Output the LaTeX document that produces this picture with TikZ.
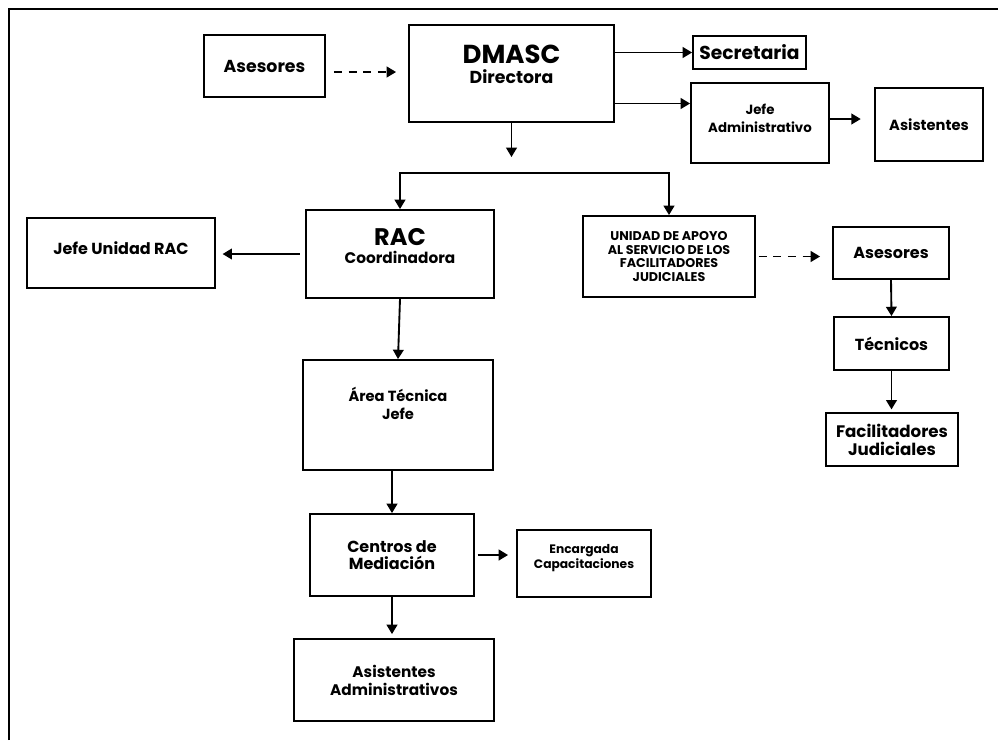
\documentclass[tikz,border=0pt]{standalone}
\usepackage{fontspec}
\setmainfont{Poppins}
\usetikzlibrary{arrows.meta}

\begin{document}
\begin{tikzpicture}[x=0.75pt, y=-0.75pt,
    box/.style={draw, line width=1.4pt, align=center, inner sep=0pt, font=\bfseries},
    sz/.style 2 args={minimum width=#1*0.75pt, minimum height=#2*0.75pt},
    arr/.style={line width=1.4pt, -{Triangle[length=7pt, width=8pt]}},
    dasharr/.style={arr, dash pattern=on 6pt off 5pt}]
  \useasboundingbox (0,0) rectangle (998,740);
  \draw[line width=2pt] (9,740) -- (9,9) -- (998,9);

  \node[box, sz={121}{62}, font=\bfseries\fontsize{13}{15}\selectfont] (asesA) at (264.5,66) {Asesores};
  \node[box, sz={205}{97}, text depth=14pt, font=\bfseries\fontsize{13}{15}\selectfont] (dmasc) at (511.5,73.5) {{\fontsize{19.5}{20}\selectfont DMASC}\\Directora};
  \node[box, sz={113}{33}, font=\bfseries\fontsize{14}{15}\selectfont] (secr) at (749.5,52.5) {Secretaria};
  \node[box, sz={138}{80}, text depth=7pt, font=\bfseries\fontsize{10}{13.5}\selectfont] (jefeadm) at (760,123) {Jefe\\Administrativo};
  \node[box, sz={108}{73}, font=\bfseries\fontsize{11}{13}\selectfont] (asist) at (929,124.5) {Asistentes};
  \node[box, sz={188}{88}, text depth=12pt, font=\bfseries\fontsize{11.5}{13.5}\selectfont] (rac) at (400,254) {{\fontsize{18}{20}\selectfont RAC}\\Coordinadora};
  \node[box, sz={188}{70}, text depth=8pt, font=\bfseries\fontsize{12}{13}\selectfont] (jeferac) at (121,253) {Jefe Unidad RAC};
  \node[box, sz={172}{81}, font=\bfseries\fontsize{9.5}{10.3}\selectfont] (unidad) at (669,256.5) {UNIDAD DE APOYO\\AL SERVICIO DE LOS\\FACILITADORES\\JUDICIALES};
  \node[box, sz={116}{52}, font=\bfseries\fontsize{12}{13}\selectfont] (asesB) at (891,253) {Asesores};
  \node[box, sz={115}{53}, font=\bfseries\fontsize{12}{13}\selectfont] (tecn) at (891.5,343.5) {Técnicos};
  \node[box, sz={132}{53}, font=\bfseries\fontsize{12.5}{13.5}\selectfont] (facil) at (892,439.5) {Facilitadores\\Judiciales};
  \node[box, sz={190}{110}, text depth=18pt, font=\bfseries\fontsize{11}{13.5}\selectfont] (area) at (398,415) {Área Técnica\\Jefe};
  \node[box, sz={164}{82}, font=\bfseries\fontsize{12}{12.75}\selectfont] (centros) at (392,555) {Centros de\\Mediación};
  \node[box, sz={134}{67}, text depth=11pt, font=\bfseries\fontsize{9.2}{11.25}\selectfont] (encarg) at (584,563.5) {Encargada\\Capacitaciones};
  \node[box, sz={200}{82}, font=\bfseries\fontsize{11.5}{13.5}\selectfont] (asistadm) at (394,680) {Asistentes\\Administrativos};

  \coordinate (split) at (511.5,173);

  \draw[dasharr, shorten <=6pt, shorten >=9pt] ([shift={(0,6)}]asesA.east) -- ([shift={(0,6)}]asesA.east -| dmasc.west);
  \draw[arr] (secr.west -| dmasc.east) -- (secr.west);
  \draw[arr] ([shift={(0,30)}]dmasc.east) -- ([shift={(0,30)}]dmasc.east -| jefeadm.west);
  \draw[arr, shorten >=10pt] ([shift={(0,-4)}]jefeadm.east) -- ([shift={(0,-4)}]jefeadm.east -| asist.west);
  \draw[arr, shorten >=12pt] (dmasc.south) -- (split);
  \draw[arr] (split) -| (rac.north);
  \draw[arr] (split) -| (unidad.north);
  \draw[arr, shorten <=4pt, shorten >=5pt] (rac.west) -- (rac.west -| jeferac.east);
  \draw[arr] (rac.south) -- (area.north);
  \draw[arr] (area.south -| centros.north) -- (centros.north);
  \draw[arr, shorten <=2pt, shorten >=6pt] (centros.east) -- (centros.east -| encarg.west);
  \draw[arr, shorten >=3pt] (centros.south) -- (centros.south |- asistadm.north);
  \draw[dasharr, shorten <=2pt, shorten >=9pt] (unidad.east) -- (unidad.east -| asesB.west);
  \draw[arr] (asesB.south) -- (tecn.north);
  \draw[arr, shorten >=2pt] (tecn.south) -- (tecn.south |- facil.north);
\end{tikzpicture}
\end{document}
